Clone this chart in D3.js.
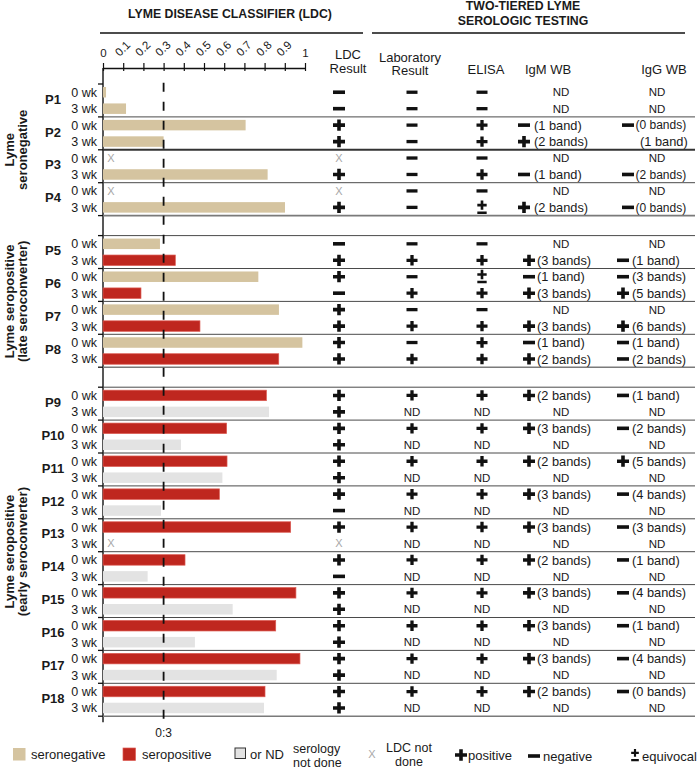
<!DOCTYPE html>
<html>
<head>
<meta charset="utf-8">
<script src="https://cdn.jsdelivr.net/npm/d3@7"></script>
<style>
  body { margin: 0; background: #fff; }
  svg text { font-family: "Liberation Sans", Arial, sans-serif; fill: #1a1a1a; }
</style>
</head>
<body>
<div id="chart"></div>
<script>
// ---- data ----
const patients = ['P1','P2','P3','P4','P5','P6','P7','P8','P9','P10',
                  'P11','P12','P13','P14','P15','P16','P17','P18'];
const blockOf = [0,0,0,0, 1,1,1,1, 2,2,2,2,2,2,2,2,2,2];
const blockLabels = [
  ['Lyme', 'seronegative'],
  ['Lyme seropositive', '(late seroconverter)'],
  ['Lyme seropositive', '(early seroconverter)']
];
const weeks = ['0 wk', '3 wk'];

// LDC score, null = LDC not done
const scoreWk0 = [0.015, 0.706, null, null, 0.282, 0.769, 0.871, 0.987, 0.809, 0.612,
                  0.614, 0.576, 0.929, 0.406, 0.955, 0.855, 0.975, 0.802];
const scoreWk3 = [0.114, 0.300, 0.815, 0.901, 0.358, 0.188, 0.480, 0.870, 0.822, 0.386,
                  0.591, 0.287, null, 0.221, 0.642, 0.455, 0.860, 0.797];
// serology status used for bar colour
const statusWk0 = ['neg','neg','neg','neg','neg','neg','neg','neg','pos','pos',
                   'pos','pos','pos','pos','pos','pos','pos','pos'];
const statusWk3 = ['neg','neg','neg','neg','pos','pos','pos','pos','nd','nd',
                   'nd','nd','nd','nd','nd','nd','nd','nd'];

const ldcWk0 = ['-','+','x','x','-','+','+','+','+','+','+','+','+','+','+','+','+','+'];
const ldcWk3 = ['-','+','+','+','+','-','+','+','+','+','+','-','x','-','+','+','+','+'];
const labWk0 = ['-','-','-','-','-','-','-','-','+','+','+','+','+','+','+','+','+','+'];
const labWk3 = ['-','-','-','-','+','+','+','+','ND','ND','ND','ND','ND','ND','ND','ND','ND','ND'];
const elisaWk0 = ['-','+','-','-','-','±','-','+','+','+','+','+','+','+','+','+','+','+'];
const elisaWk3 = ['-','+','+','±','+','+','+','+','ND','ND','ND','ND','ND','ND','ND','ND','ND','ND'];
const igmWk0 = ['ND','-(1 band)','ND','ND','ND','-(1 band)','ND','-(1 band)','+(2 bands)','+(3 bands)',
                '+(2 bands)','+(3 bands)','+(3 bands)','+(2 bands)','+(3 bands)','+(3 bands)','+(3 bands)','+(2 bands)'];
const igmWk3 = ['ND','+(2 bands)','-(1 band)','+(2 bands)','+(3 bands)','+(3 bands)','+(3 bands)','+(2 bands)','ND','ND',
                'ND','ND','ND','ND','ND','ND','ND','ND'];
const iggWk0 = ['ND','-(0 bands)','ND','ND','ND','-(3 bands)','ND','-(1 band)','-(1 band)','-(2 bands)',
                '+(5 bands)','-(4 bands)','-(3 bands)','-(1 band)','-(4 bands)','-(1 band)','-(4 bands)','-(0 bands)'];
const iggWk3 = ['ND','(1 band)','-(2 bands)','-(0 bands)','-(1 band)','+(5 bands)','+(6 bands)','-(2 bands)','ND','ND',
                'ND','ND','ND','ND','ND','ND','ND','ND'];

const axisTicks = [0, 0.1, 0.2, 0.3, 0.4, 0.5, 0.6, 0.7, 0.8, 0.9, 1];
const cutoff = 0.3;

// ---- layout ----
const W = 698, H = 769;
const rowH = 16.45, blockGap = 20, rowsTop = 84;
const colors = { neg: '#d5c4a0', pos: '#bf271f', nd: '#e3e3e3' };

const svg = d3.select('#chart').append('svg').attr('width', W).attr('height', H);

const x = d3.scaleLinear().domain([0, 1]).range([103, 305]);
const yRow = d3.scaleLinear().domain([0, 36]).range([rowsTop, rowsTop + 36 * rowH]);
const yTop = (i, b) => yRow(i) + b * blockGap;
const yMid = (i, b) => yTop(i, b) + rowH / 2;

const cols = { ldc: 339, lab: 412, elisa: 482, igmND: 561, iggND: 657 };

// rows table built from the arrays
const rows = [];
patients.forEach((p, k) => {
  [0, 1].forEach(t => {
    rows.push({
      patient: p, k: k, t: t, i: 2 * k + t, b: blockOf[k],
      score: t ? scoreWk3[k] : scoreWk0[k],
      status: t ? statusWk3[k] : statusWk0[k],
      ldc: t ? ldcWk3[k] : ldcWk0[k],
      lab: t ? labWk3[k] : labWk0[k],
      elisa: t ? elisaWk3[k] : elisaWk0[k],
      igm: t ? igmWk3[k] : igmWk0[k],
      igg: t ? iggWk3[k] : iggWk0[k]
    });
  });
});

// ---- symbols ----
function sign(g, type, cx, cy, w) {
  w = w || 11;
  const th = w * 0.3;
  if (type === '+') {
    g.append('path')
      .attr('d', `M${cx - w / 2},${cy - th / 2}h${w}v${th}h${-w}z M${cx - th / 2},${cy - w * 0.47}h${th}v${w * 0.94}h${-th}z`)
      .attr('fill', '#111');
  } else if (type === '-') {
    g.append('rect').attr('x', cx - w / 2).attr('y', cy - th / 2)
      .attr('width', w).attr('height', th).attr('fill', '#111');
  } else if (type === '±') {
    const pw = w * 0.85, pt = w * 0.24, py = cy - 2.2;
    g.append('path')
      .attr('d', `M${cx - pw / 2},${py - pt / 2}h${pw}v${pt}h${-pw}z M${cx - pt / 2},${py - pw / 2}h${pt}v${pw}h${-pt}z` +
        ` M${cx - pw / 2},${cy + 4}h${pw}v${pt}h${-pw}z`)
      .attr('fill', '#111');
  } else if (type === 'x') {
    g.append('text').attr('x', cx).attr('y', cy).attr('dy', '0.36em')
      .attr('text-anchor', 'middle').style('font-size', '11px').style('fill', '#a8a8a8')
      .text('X');
  } else if (type === 'ND') {
    g.append('text').attr('x', cx).attr('y', cy).attr('dy', '0.36em')
      .attr('text-anchor', 'middle').style('font-size', '11.5px')
      .text('ND');
  }
}

function bandCell(g, val, cy, ndX, signX, textX, size) {
  if (val === 'ND') { sign(g, 'ND', ndX, cy); return; }
  let s = null, txt = val;
  if (val[0] === '+' || val[0] === '-') { s = val[0]; txt = val.slice(1); }
  if (s) sign(g, s, signX, cy, 12);
  g.append('text').attr('x', s ? textX : 640).attr('y', cy).attr('dy', '0.36em')
    .style('font-size', (s ? size : 12.8) + 'px').text(txt);
}

// ---- headers ----
const head = svg.append('g');
head.append('text').attr('x', 230).attr('y', 18.3).attr('text-anchor', 'middle')
  .style('font-size', '12.3px').style('font-weight', 'bold').text('LYME DISEASE CLASSIFIER (LDC)');
head.append('text').attr('x', 523).attr('y', 10).attr('text-anchor', 'middle')
  .style('font-size', '12.3px').style('font-weight', 'bold').text('TWO-TIERED LYME');
head.append('text').attr('x', 523).attr('y', 24.5).attr('text-anchor', 'middle')
  .style('font-size', '12.3px').style('font-weight', 'bold').text('SEROLOGIC TESTING');
head.append('line').attr('x1', 100).attr('x2', 363).attr('y1', 33).attr('y2', 33)
  .attr('stroke', '#111').attr('stroke-width', 1.4);
head.append('line').attr('x1', 372).attr('x2', 685).attr('y1', 33).attr('y2', 33)
  .attr('stroke', '#111').attr('stroke-width', 1.4);

const colHeads = [
  { x: 348, lines: ['LDC', 'Result'], y0: 59 },
  { x: 410, lines: ['Laboratory', 'Result'], y0: 61.5 },
  { x: 486, lines: ['ELISA'], y0: 74 },
  { x: 548, lines: ['IgM WB'], y0: 74 },
  { x: 664, lines: ['IgG WB'], y0: 74 }
];
colHeads.forEach(c => {
  c.lines.forEach((l, j) => {
    head.append('text').attr('x', c.x).attr('y', c.lines.length === 1 ? c.y0 : c.y0 + j * 13.5)
      .attr('text-anchor', 'middle').style('font-size', '13px').text(l);
  });
});

// ---- top axis ----
const axisY = 68;
const axisG = svg.append('g').attr('transform', `translate(0,${axisY})`)
  .call(d3.axisTop(x).tickValues(axisTicks).tickSize(5).tickSizeOuter(0)
    .tickFormat(d => (d === 0 || d === 1) ? String(d) : d.toFixed(1)));
axisG.select('.domain').attr('stroke', '#111').attr('stroke-width', 1.3);
axisG.selectAll('.tick line').attr('y1', 3).attr('stroke', '#111').attr('stroke-width', 1.2);
axisG.selectAll('.tick text')
  .style('font-size', '11.5px').style('font-family', '"Liberation Sans", Arial, sans-serif')
  .attr('fill', '#1a1a1a')
  .each(function (d) {
    const t = d3.select(this);
    if (d === 0 || d === 1) {
      t.attr('y', -11).attr('dy', 0).attr('text-anchor', 'middle');
    } else {
      t.attr('y', 0).attr('dy', 0).attr('text-anchor', 'start')
        .attr('transform', 'translate(-4,-11) rotate(-45)');
    }
  });

// ---- left axis line and boundary ticks ----
const lastY = yTop(36, 2);
svg.append('line').attr('x1', x(0)).attr('x2', x(0)).attr('y1', axisY).attr('y2', lastY + 6)
  .attr('stroke', '#111').attr('stroke-width', 1.4);

const bounds = [];
patients.forEach((p, k) => {
  const b = blockOf[k];
  bounds.push(yTop(2 * k, b));
  bounds.push(yTop(2 * k + 2, b));
});
svg.append('g').selectAll('line').data(Array.from(new Set(bounds))).join('line')
  .attr('x1', x(0) - 5).attr('x2', x(0)).attr('y1', d => d).attr('y2', d => d)
  .attr('stroke', '#111').attr('stroke-width', 1.3);

// ---- separators ----
const sep = svg.append('g');
patients.forEach((p, k) => {
  const b = blockOf[k];
  const last = k === patients.length - 1 || blockOf[k + 1] !== b;
  const first = k === 0 || blockOf[k - 1] !== b;
  const yb = yTop(2 * k + 2, b);
  sep.append('line').attr('x1', x(0)).attr('x2', 695).attr('y1', yb).attr('y2', yb)
    .attr('stroke', last ? '#7a7a7a' : (k === 1 ? '#333' : '#4a4a4a'))
    .attr('stroke-width', last ? 1.6 : (k === 1 ? 2 : 1));
  if (first && b > 0) {
    const yt = yTop(2 * k, b);
    sep.append('line').attr('x1', x(0)).attr('x2', 695).attr('y1', yt).attr('y2', yt)
      .attr('stroke', '#4a4a4a').attr('stroke-width', 1);
  }
});

// ---- bars ----
const barH = 10.5;
svg.append('g').selectAll('rect')
  .data(rows.filter(r => r.score !== null)).join('rect')
  .attr('x', x(0))
  .attr('y', r => yMid(r.i, r.b) - barH / 2)
  .attr('width', r => x(r.score) - x(0))
  .attr('height', barH)
  .attr('fill', r => colors[r.status])
  .attr('stroke', r => r.status === 'pos' ? '#dc5a52' : 'none')
  .attr('stroke-width', 0.7);

const xMarks = svg.append('g');
rows.filter(r => r.score === null).forEach(r => sign(xMarks, 'x', 111, yMid(r.i, r.b)));

// cutoff dashed line
svg.append('line').attr('x1', x(cutoff)).attr('x2', x(cutoff))
  .attr('y1', 82.7).attr('y2', lastY + 6)
  .attr('stroke', '#111').attr('stroke-width', 1.8).attr('stroke-dasharray', '9,10');
svg.append('text').attr('x', x(cutoff)).attr('y', 737).attr('text-anchor', 'middle')
  .style('font-size', '12px').text('0:3');

// ---- row labels ----
const lab = svg.append('g');
rows.forEach(r => {
  lab.append('text').attr('x', 97).attr('y', yMid(r.i, r.b)).attr('dy', '0.36em')
    .attr('text-anchor', 'end').style('font-size', '12.5px').text(weeks[r.t]);
});
patients.forEach((p, k) => {
  lab.append('text').attr('x', 53).attr('y', yTop(2 * k + 1, blockOf[k]) - 1.5).attr('dy', '0.36em')
    .attr('text-anchor', 'middle').style('font-size', '13px').style('font-weight', 'bold').text(p);
});
blockLabels.forEach((lines, b) => {
  const ks = patients.map((p, k) => k).filter(k => blockOf[k] === b);
  const cy = (yTop(2 * ks[0], b) + yTop(2 * ks[ks.length - 1] + 2, b)) / 2;
  lines.forEach((l, j) => {
    lab.append('text').attr('transform', `translate(${14 + j * 13},${cy}) rotate(-90)`)
      .attr('text-anchor', 'middle').style('font-size', '13px').style('font-weight', 'bold').text(l);
  });
});

// ---- result columns ----
const cells = svg.append('g');
rows.forEach(r => {
  const cy = yMid(r.i, r.b);
  sign(cells, r.ldc, cols.ldc, cy, 12);
  sign(cells, r.lab, cols.lab, cy, 11);
  sign(cells, r.elisa, cols.elisa, cy, 11);
  const early = r.b === 0;
  bandCell(cells, r.igm, cy, cols.igmND, early ? 524 : 529, early ? 534 : 537, 12.8);
  bandCell(cells, r.igg, cy, cols.iggND, early ? 628 : 623, early ? 635.5 : 632, early ? 12 : 12.8);
});

// ---- legend ----
const leg = svg.append('g');
const ly = 754;
const swatches = [
  { x: 13, fill: colors.neg, stroke: 'none', label: 'seronegative', tx: 31 },
  { x: 123, fill: colors.pos, stroke: '#dc5a52', label: 'seropositive', tx: 142 },
  { x: 235, fill: colors.nd, stroke: '#333', label: 'or ND', tx: 250 }
];
swatches.forEach(s => {
  leg.append('rect').attr('x', s.x).attr('y', ly - 6).attr('width', s.x === 235 ? 10.5 : 12.5)
    .attr('height', s.x === 235 ? 10.5 : 12.5)
    .attr('fill', s.fill).attr('stroke', s.stroke).attr('stroke-width', s.x === 235 ? 1 : 0.7);
  leg.append('text').attr('x', s.tx).attr('y', ly).attr('dy', '0.36em')
    .style('font-size', '13px').text(s.label);
});
leg.append('text').attr('x', 293).attr('y', 748).attr('dy', '0.36em').style('font-size', '12.5px').text('serology');
leg.append('text').attr('x', 293).attr('y', 762.5).attr('dy', '0.36em').style('font-size', '12.5px').text('not done');
sign(leg, 'x', 372, 754);
leg.append('text').attr('x', 409).attr('y', 747).attr('dy', '0.36em').attr('text-anchor', 'middle')
  .style('font-size', '12.5px').text('LDC not');
leg.append('text').attr('x', 409).attr('y', 761.5).attr('dy', '0.36em').attr('text-anchor', 'middle')
  .style('font-size', '12.5px').text('done');
sign(leg, '+', 461, 755, 12);
leg.append('text').attr('x', 468).attr('y', 755).attr('dy', '0.36em').style('font-size', '13px').text('positive');
sign(leg, '-', 534, 756, 12);
leg.append('text').attr('x', 543).attr('y', 756).attr('dy', '0.36em').style('font-size', '13px').text('negative');
sign(leg, '±', 635, 755, 9);
leg.append('text').attr('x', 642).attr('y', 756).attr('dy', '0.36em').style('font-size', '13px').text('equivocal');
</script>
</body>
</html>
